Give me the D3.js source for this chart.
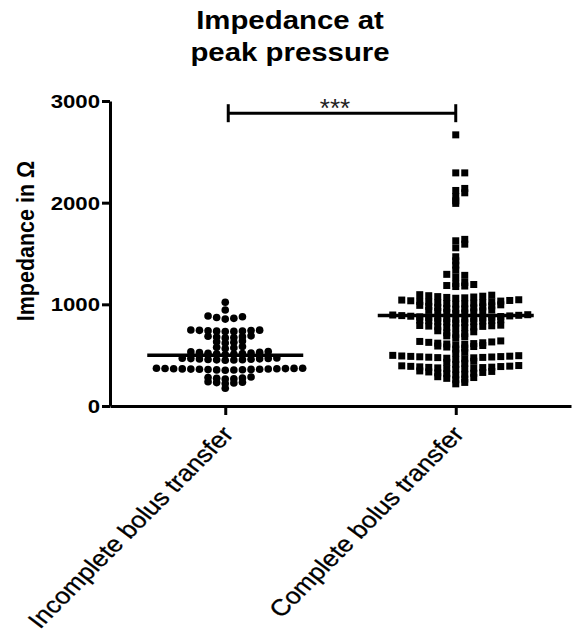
<!DOCTYPE html>
<meta charset="utf-8">
<style>
    body { margin: 0; background: #fff; }
    text { font-family: "Liberation Sans", Arial, sans-serif; fill: #000; }
</style>
<body>
<script src="https://cdn.jsdelivr.net/npm/d3@7/dist/d3.min.js"></script>
<script>
// chart values
var groups = ["Incomplete bolus transfer", "Complete bolus transfer"];
var incomplete = [175,
    238, 234, 230, 226, 222,
    285, 280, 276, 272, 268, 265,
    372, 371, 370, 369, 368, 367, 366, 365, 364, 363, 362, 361, 360, 358, 356, 355, 354, 352,
    472, 470, 468, 466, 464, 462, 460, 458, 456, 454, 452, 450,
    535, 532, 528, 525, 522, 519, 516, 513, 510, 507,
    585, 578, 572, 566,
    640, 632, 626, 620,
    690, 686, 682, 678, 674, 670,
    748, 746, 744, 742, 740, 738, 736, 734, 732,
    885, 878, 870, 862, 855,
    945, 1020];
var complete = [232, 218,
    288, 280, 272, 265, 258,
    345, 340, 335, 330, 326, 322, 318, 312, 306,
    398, 395, 392, 390, 388, 385, 382, 380, 378, 375, 372, 368, 365, 360,
    440, 430, 420, 410,
    498, 495, 492, 490, 488, 486, 484, 482, 480, 478, 476, 474, 470, 465, 458,
    530, 520,
    595, 590, 585, 580, 570, 560,
    640, 635, 630, 626, 622, 618, 614, 610, 606, 602,
    690, 680, 670,
    740, 730, 720, 712, 705,
    795, 792, 789, 786, 783, 780, 777, 774, 771, 768,
    848, 845, 842, 839, 836, 833, 830, 826, 820, 815,
    898, 895, 892, 889, 886, 883, 880, 877, 874, 871, 868, 865, 862, 859, 856, 853,
    945, 940, 935, 930, 925, 920, 915, 910,
    995, 990, 985, 980, 975, 970, 965, 960, 955, 952,
    1045, 1042, 1038, 1035, 1032, 1028, 1025, 1022, 1018, 1015, 1012, 1008, 1005, 1002,
    1095, 1090, 1085, 1080, 1076, 1072, 1068, 1064, 1060,
    1195, 1185, 1180, 1175, 1215, 1205,
    1295, 1285, 1270, 1337,
    1386, 1428, 1468, 1556, 1592, 1625, 1639,
    1993, 2018, 2060, 2097, 2120, 2140, 2293, 2293, 2667];
var meanValues = [500, 890];
var yTicks = [0, 1000, 2000, 3000];
var bracketLevel = 2880;
var sigLabel = "***";
var titleLines = ["Impedance at", "peak pressure"];
var yLabel = "Impedance in \u03A9";

var width = 573, height = 642;
var plot = {left: 110, right: 571, top: 101, bottom: 406};

var svg = d3.select("body").append("svg")
    .attr("width", width)
    .attr("height", height);

var x = d3.scalePoint().domain(groups).range([plot.left, plot.right]).padding(0.5);
var y = d3.scaleLinear().domain([0, 3000]).range([plot.bottom, plot.top]);

// scatter layout: values binned by 50, spread sideways 0,+1,-1,+2,...
function swarm(values, cx, step) {
    var pts = [];
    d3.group(values, function (v) { return Math.floor(v / 50); }).forEach(function (vals) {
        vals.slice().sort(d3.ascending).forEach(function (v, i) {
            var k = i % 2 ? (i + 1) / 2 : -i / 2;
            pts.push({v: v, x: cx + k * step});
        });
    });
    return pts;
}

// title
svg.selectAll(".title")
    .data(titleLines)
    .enter().append("text")
    .attr("class", "title")
    .attr("transform", function (d, i) { return "translate(290," + (29 + i * 32) + ") scale(1.13,1)"; })
    .attr("text-anchor", "middle")
    .style("font-size", "26px")
    .style("font-weight", "bold")
    .text(function (d) { return d; });

// y axis
var yAxis = svg.append("g")
    .attr("transform", "translate(" + plot.left + ",0)")
    .call(d3.axisLeft(y).tickValues(yTicks).tickSize(8).tickSizeOuter(0).tickFormat(d3.format("d")));
yAxis.select(".domain").attr("stroke-width", 3);
yAxis.selectAll(".tick line").attr("stroke-width", 3);
yAxis.selectAll(".tick text")
    .attr("x", -10 / 1.2)
    .attr("dy", "0.36em")
    .attr("transform", "scale(1.2,1)")
    .style("font-family", "Liberation Sans, Arial, sans-serif")
    .style("font-size", "18.5px")
    .style("font-weight", "bold");

// x axis
var xAxis = svg.append("g")
    .attr("transform", "translate(0," + plot.bottom + ")")
    .call(d3.axisBottom(x).tickSize(9).tickSizeOuter(0));
xAxis.select(".domain").attr("stroke-width", 3);
xAxis.selectAll(".tick line").attr("stroke-width", 3);
var sx = 1.15, ang = Math.atan(sx) * 180 / Math.PI;
xAxis.selectAll(".tick text")
    .attr("x", 0).attr("y", 0).attr("dy", 0)
    .attr("text-anchor", "end")
    .attr("transform", "translate(9,29) scale(" + sx + ",1) rotate(" + (-ang) + ")")
    .style("font-family", "Liberation Sans, Arial, sans-serif")
    .style("font-size", "23px")
    .style("stroke", "#000")
    .style("stroke-width", "0.3px");

// y label
svg.append("text")
    .attr("transform", "translate(34,241) scale(1.12,1) rotate(-90)")
    .attr("text-anchor", "middle")
    .style("font-size", "21.5px")
    .style("font-weight", "bold")
    .text(yLabel);

// points
var circles = swarm(incomplete, x(groups[0]), 8.6);
svg.selectAll(".dot")
    .data(circles)
    .enter().append("circle")
    .attr("class", "dot")
    .attr("cx", function (d) { return d.x; })
    .attr("cy", function (d) { return y(d.v); })
    .attr("r", 3.8)
    .attr("fill", "#000");

var squares = swarm(complete, x(groups[1]), 9);
svg.selectAll(".sq")
    .data(squares)
    .enter().append("rect")
    .attr("class", "sq")
    .attr("x", function (d) { return d.x - 3.5; })
    .attr("y", function (d) { return y(d.v) - 3.5; })
    .attr("width", 7)
    .attr("height", 7)
    .attr("fill", "#000");

// mean lines
svg.selectAll(".mean")
    .data(meanValues)
    .enter().append("line")
    .attr("class", "mean")
    .attr("x1", function (d, i) { return x(groups[i]) - 78; })
    .attr("x2", function (d, i) { return x(groups[i]) + 78; })
    .attr("y1", function (d) { return y(d); })
    .attr("y2", function (d) { return y(d); })
    .attr("stroke", "#000")
    .attr("stroke-width", 3.5);

// significance bracket
var bx1 = x(groups[0]) + 3, bx2 = x(groups[1]), by = y(bracketLevel);
var br = svg.append("g").attr("stroke", "#000").attr("stroke-width", 3);
br.append("line").attr("x1", bx1).attr("x2", bx2).attr("y1", by).attr("y2", by);
br.append("line").attr("x1", bx1).attr("x2", bx1).attr("y1", by - 9).attr("y2", by + 9);
br.append("line").attr("x1", bx2).attr("x2", bx2).attr("y1", by - 9).attr("y2", by + 9);
svg.append("text")
    .attr("x", (bx1 + bx2) / 2 - 7)
    .attr("y", by + 4)
    .attr("text-anchor", "middle")
    .style("font-size", "26px")
    .style("fill", "#222")
    .text(sigLabel);
</script>
</body>
